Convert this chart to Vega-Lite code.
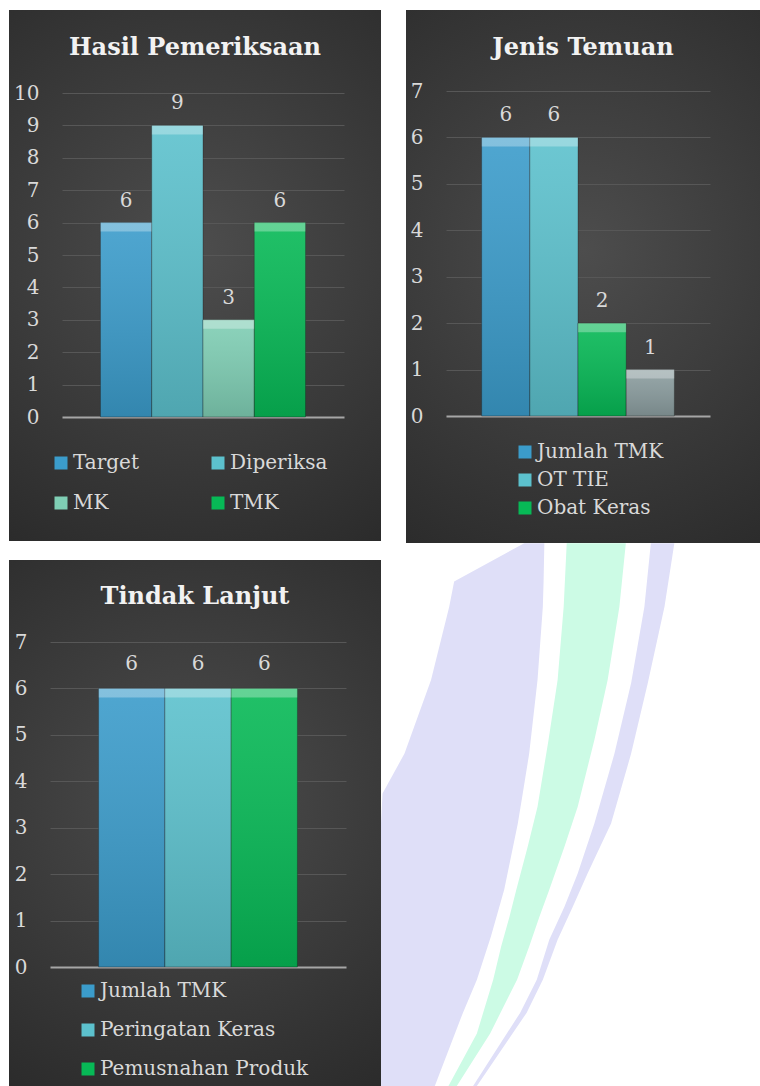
{
  "$schema": "https://vega.github.io/schema/vega-lite/v6.json",
  "background": "#ffffff",
  "padding": {"left": 9, "top": 10, "right": 0, "bottom": 0},
  "spacing": 0,
  "resolve": {"scale": {"color": "independent"}, "legend": {"color": "independent"}},
  "vconcat": [
    {
      "bounds": "flush",
      "spacing": 25,
      "resolve": {"scale": {"color": "independent"}, "legend": {"color": "independent"}},
      "hconcat": [
        {
          "width": 372,
          "height": 531,
          "title": {"text": "Hasil Pemeriksaan", "offset": -50},
          "view": {"stroke": null, "fill": {"gradient": "radial", "x1": 0.5, "y1": 0.45, "r1": 0, "x2": 0.5, "y2": 0.45, "r2": 0.75, "stops": [{"offset": 0, "color": "#4d4d4d"}, {"offset": 1, "color": "#262626"}]}},
          "data": {"values": [
            {"kategori": "Target", "jumlah": 6},
            {"kategori": "Diperiksa", "jumlah": 9},
            {"kategori": "MK", "jumlah": 3},
            {"kategori": "TMK", "jumlah": 6}
          ]},
          "encoding": {
            "x": {"field": "kategori", "type": "nominal", "sort": null, "axis": null,
                  "scale": {"range": [53, 335], "paddingInner": 0, "paddingOuter": 0.75}},
            "y": {"field": "jumlah", "type": "quantitative",
                  "scale": {"domain": [0, 10], "range": [407, 83], "nice": false},
                  "axis": {"values": [0, 1, 2, 3, 4, 5, 6, 7, 8, 9, 10], "offset": -53, "labelPadding": 23}}
          },
          "layer": [
            {"mark": {"type": "bar", "stroke": "#1a1a1a", "strokeOpacity": 0.35, "strokeWidth": 1},
             "encoding": {"color": {"field": "kategori", "type": "nominal", "sort": null,
               "scale": {"domain": ["Target", "Diperiksa", "MK", "TMK"], "range": ["#3b9ccb", "#5cc1cd", "#7fceb4", "#07b956"]},
               "legend": {"orient": "none", "legendX": 42, "legendY": 443, "columns": 2, "direction": "horizontal", "columnPadding": 69, "rowPadding": 20, "title": null}}}},
            {"mark": {"type": "bar", "strokeWidth": 0, "fill": {"gradient": "linear", "x1": 0, "y1": 0, "x2": 0, "y2": 1, "stops": [{"offset": 0, "color": "rgba(255,255,255,0.10)"}, {"offset": 1, "color": "rgba(0,0,0,0.14)"}]}}},
            {"mark": {"type": "tick", "color": "#ffffff", "opacity": 0.3, "thickness": 9, "size": 51, "yOffset": 4.5}},
            {"mark": {"type": "text", "baseline": "alphabetic", "dy": -16, "font": "DejaVu Serif", "fontSize": 20, "color": "#d9d9d9"},
             "encoding": {"text": {"field": "jumlah", "type": "quantitative"}}}
          ]
        },
        {
          "width": 354,
          "height": 533,
          "title": {"text": "Jenis Temuan", "offset": -50},
          "view": {"stroke": null, "fill": {"gradient": "radial", "x1": 0.5, "y1": 0.45, "r1": 0, "x2": 0.5, "y2": 0.45, "r2": 0.75, "stops": [{"offset": 0, "color": "#4d4d4d"}, {"offset": 1, "color": "#262626"}]}},
          "data": {"values": [
            {"kategori": "Jumlah TMK", "jumlah": 6},
            {"kategori": "OT TIE", "jumlah": 6},
            {"kategori": "Obat Keras", "jumlah": 2},
            {"kategori": "Lainnya", "jumlah": 1}
          ]},
          "encoding": {
            "x": {"field": "kategori", "type": "nominal", "sort": null, "axis": null,
                  "scale": {"range": [40, 304], "paddingInner": 0, "paddingOuter": 0.74}},
            "y": {"field": "jumlah", "type": "quantitative",
                  "scale": {"domain": [0, 7], "range": [406, 81], "nice": false},
                  "axis": {"values": [0, 1, 2, 3, 4, 5, 6, 7], "offset": -40, "labelPadding": 23}}
          },
          "layer": [
            {"mark": {"type": "bar", "stroke": "#1a1a1a", "strokeOpacity": 0.35, "strokeWidth": 1},
             "encoding": {"color": {"field": "kategori", "type": "nominal", "sort": null,
               "scale": {"domain": ["Jumlah TMK", "OT TIE", "Obat Keras", "Lainnya"], "range": ["#3b9ccb", "#5cc1cd", "#07b956", "#8b9d9f"]},
               "legend": {"orient": "none", "legendX": 109, "legendY": 432, "values": ["Jumlah TMK", "OT TIE", "Obat Keras"], "direction": "vertical", "rowPadding": 8, "title": null}}}},
            {"mark": {"type": "bar", "strokeWidth": 0, "fill": {"gradient": "linear", "x1": 0, "y1": 0, "x2": 0, "y2": 1, "stops": [{"offset": 0, "color": "rgba(255,255,255,0.10)"}, {"offset": 1, "color": "rgba(0,0,0,0.14)"}]}}},
            {"mark": {"type": "tick", "color": "#ffffff", "opacity": 0.3, "thickness": 9, "size": 48, "yOffset": 4.5}},
            {"mark": {"type": "text", "baseline": "alphabetic", "dy": -16, "font": "DejaVu Serif", "fontSize": 20, "color": "#d9d9d9"},
             "encoding": {"text": {"field": "jumlah", "type": "quantitative"}}}
          ]
        }
      ]
    },
    {
      "bounds": "flush",
      "spacing": 0,
      "resolve": {"scale": {"color": "independent"}, "legend": {"color": "independent"}},
      "hconcat": [
        {
          "width": 372,
          "height": 526,
          "title": {"text": "Tindak Lanjut", "offset": -49},
          "view": {"stroke": null, "fill": {"gradient": "radial", "x1": 0.5, "y1": 0.45, "r1": 0, "x2": 0.5, "y2": 0.45, "r2": 0.75, "stops": [{"offset": 0, "color": "#4d4d4d"}, {"offset": 1, "color": "#262626"}]}},
          "data": {"values": [
            {"kategori": "Jumlah TMK", "jumlah": 6},
            {"kategori": "Peringatan Keras", "jumlah": 6},
            {"kategori": "Pemusnahan Produk", "jumlah": 6}
          ]},
          "encoding": {
            "x": {"field": "kategori", "type": "nominal", "sort": null, "axis": null,
                  "scale": {"range": [41, 337], "paddingInner": 0, "paddingOuter": 0.733}},
            "y": {"field": "jumlah", "type": "quantitative",
                  "scale": {"domain": [0, 7], "range": [407, 82], "nice": false},
                  "axis": {"values": [0, 1, 2, 3, 4, 5, 6, 7], "offset": -41, "labelPadding": 23}}
          },
          "layer": [
            {"mark": {"type": "bar", "stroke": "#1a1a1a", "strokeOpacity": 0.35, "strokeWidth": 1},
             "encoding": {"color": {"field": "kategori", "type": "nominal", "sort": null,
               "scale": {"domain": ["Jumlah TMK", "Peringatan Keras", "Pemusnahan Produk"], "range": ["#3b9ccb", "#5cc1cd", "#07b956"]},
               "legend": {"orient": "none", "legendX": 69, "legendY": 421, "direction": "vertical", "rowPadding": 19, "title": null}}}},
            {"mark": {"type": "bar", "strokeWidth": 0, "fill": {"gradient": "linear", "x1": 0, "y1": 0, "x2": 0, "y2": 1, "stops": [{"offset": 0, "color": "rgba(255,255,255,0.10)"}, {"offset": 1, "color": "rgba(0,0,0,0.14)"}]}}},
            {"mark": {"type": "tick", "color": "#ffffff", "opacity": 0.3, "thickness": 9, "size": 66, "yOffset": 4.5}},
            {"mark": {"type": "text", "baseline": "alphabetic", "dy": -18, "font": "DejaVu Serif", "fontSize": 20, "color": "#d9d9d9"},
             "encoding": {"text": {"field": "jumlah", "type": "quantitative"}}}
          ]
        },
        {
          "width": 379,
          "height": 526,
          "view": {"stroke": null, "fill": null},
          "data": {"values": [
            {"pita": "L1", "tinggi": -3.2, "kiri": 37.8, "kanan": 43.1},
            {"pita": "L1", "tinggi": 4.1, "kiri": 19.3, "kanan": 42.9},
            {"pita": "L1", "tinggi": 8.9, "kiri": 18.0, "kanan": 42.7},
            {"pita": "L1", "tinggi": 22.8, "kiri": 13.2, "kanan": 41.3},
            {"pita": "L1", "tinggi": 36.8, "kiri": 6.2, "kanan": 39.1},
            {"pita": "L1", "tinggi": 44.4, "kiri": 0.4, "kanan": 37.4},
            {"pita": "L1", "tinggi": 50.1, "kiri": 0, "kanan": 36.1},
            {"pita": "L1", "tinggi": 62.7, "kiri": 0, "kanan": 32.5},
            {"pita": "L1", "tinggi": 71.6, "kiri": 0, "kanan": 29.0},
            {"pita": "L1", "tinggi": 79.8, "kiri": 0, "kanan": 25.3},
            {"pita": "L1", "tinggi": 86.1, "kiri": 0, "kanan": 21.6},
            {"pita": "L1", "tinggi": 100, "kiri": 0, "kanan": 14.2},
            {"pita": "M", "tinggi": -3.2, "kiri": 49.0, "kanan": 64.6},
            {"pita": "M", "tinggi": 8.9, "kiri": 48.2, "kanan": 62.9},
            {"pita": "M", "tinggi": 22.8, "kiri": 46.6, "kanan": 59.8},
            {"pita": "M", "tinggi": 34.2, "kiri": 44.2, "kanan": 56.3},
            {"pita": "M", "tinggi": 46.9, "kiri": 41.3, "kanan": 51.9},
            {"pita": "M", "tinggi": 54.5, "kiri": 38.7, "kanan": 48.4},
            {"pita": "M", "tinggi": 62.7, "kiri": 35.7, "kanan": 44.4},
            {"pita": "M", "tinggi": 67.8, "kiri": 33.9, "kanan": 41.8},
            {"pita": "M", "tinggi": 73.5, "kiri": 31.7, "kanan": 39.1},
            {"pita": "M", "tinggi": 79.8, "kiri": 29.6, "kanan": 35.9},
            {"pita": "M", "tinggi": 90.0, "kiri": 25.3, "kanan": 28.8},
            {"pita": "M", "tinggi": 100, "kiri": 17.8, "kanan": 20.0},
            {"pita": "L2", "tinggi": -3.2, "kiri": 71.2, "kanan": 77.4},
            {"pita": "L2", "tinggi": 8.9, "kiri": 69.5, "kanan": 74.8},
            {"pita": "L2", "tinggi": 23.4, "kiri": 66.0, "kanan": 70.4},
            {"pita": "L2", "tinggi": 36.8, "kiri": 61.6, "kanan": 66.0},
            {"pita": "L2", "tinggi": 50.1, "kiri": 56.3, "kanan": 60.7},
            {"pita": "L2", "tinggi": 59.6, "kiri": 51.9, "kanan": 54.5},
            {"pita": "L2", "tinggi": 65.9, "kiri": 48.4, "kanan": 50.6},
            {"pita": "L2", "tinggi": 72.2, "kiri": 44.4, "kanan": 46.6},
            {"pita": "L2", "tinggi": 79.8, "kiri": 41.1, "kanan": 42.7},
            {"pita": "L2", "tinggi": 86.1, "kiri": 36.7, "kanan": 38.4},
            {"pita": "L2", "tinggi": 100, "kiri": 24.3, "kanan": 25.3}
          ]},
          "mark": {"type": "area", "orient": "horizontal", "interpolate": "linear", "opacity": 1},
          "encoding": {
            "y": {"field": "tinggi", "type": "quantitative", "axis": null,
                  "scale": {"domain": [0, 100], "reverse": true, "nice": false, "zero": false}},
            "x": {"field": "kiri", "type": "quantitative", "axis": null, "stack": null,
                  "scale": {"domain": [0, 100], "nice": false, "zero": false}},
            "x2": {"field": "kanan"},
            "color": {"field": "pita", "type": "nominal", "legend": null,
                      "scale": {"domain": ["L1", "M", "L2"], "range": ["#dfdff8", "#ccfbe5", "#dfdff8"]}}
          }
        }
      ]
    }
  ],
  "config": {
    "font": "DejaVu Serif",
    "view": {"stroke": null},
    "title": {"font": "DejaVu Serif", "fontSize": 24, "fontWeight": "bold", "color": "#f2f2f2", "anchor": "middle"},
    "axis": {
      "labelFont": "DejaVu Serif", "labelFontSize": 20, "labelColor": "#d9d9d9",
      "domain": false, "ticks": false, "tickSize": 0, "title": null, "grid": true, "labelOverlap": false,
      "gridColor": {"condition": {"test": "datum.value === 0", "value": "#a6a6a6"}, "value": "#575757"},
      "gridWidth": {"condition": {"test": "datum.value === 0", "value": 2}, "value": 1}
    },
    "legend": {
      "labelFont": "DejaVu Serif", "labelFontSize": 20, "labelColor": "#d9d9d9", "labelLimit": 400,
      "symbolType": "square", "symbolSize": 169, "symbolStrokeWidth": 0, "padding": 0, "labelOffset": 2
    }
  }
}
